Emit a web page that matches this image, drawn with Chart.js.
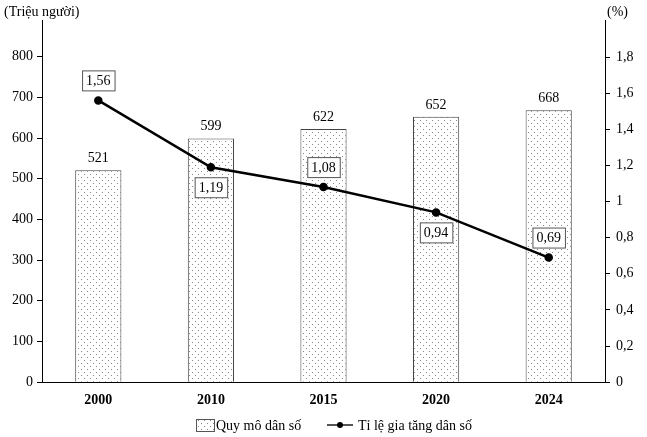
<!DOCTYPE html>
<html><head><meta charset="utf-8">
<script src="https://cdn.jsdelivr.net/npm/chart.js@4.4.0/dist/chart.umd.min.js"></script>
<style>html,body{margin:0;padding:0;background:#fff;overflow:hidden}#wrap{width:647px;height:437px}</style>
</head><body><div id="wrap"><canvas id="c"></canvas></div>
<script>
// data
const years = ['2000', '2010', '2015', '2020', '2024'];
const population = [521, 599, 622, 652, 668];
const growthRate = [1.56, 1.19, 1.08, 0.94, 0.69];
const labelBelow = [false, true, false, true, false];
const leftTicks = [0, 100, 200, 300, 400, 500, 600, 700, 800];
const rightTicks = [0, 0.2, 0.4, 0.6, 0.8, 1, 1.2, 1.4, 1.6, 1.8];

const FONT = '"Liberation Serif", "DejaVu Serif", serif';

// dotted fill like the printed chart
function dotPattern() {
    const p = document.createElement('canvas');
    p.width = 6; p.height = 6;
    const g = p.getContext('2d');
    g.fillStyle = '#fff'; g.fillRect(0, 0, 6, 6);
    g.fillStyle = '#888';
    g.fillRect(0, 0, 1, 1);
    g.fillRect(3, 3, 1, 1);
    return g.createPattern(p, 'repeat');
}
const pattern = dotPattern();

const labelsPlugin = {
    id: 'labels',
    afterDatasetsDraw(chart) {
        const ctx = chart.ctx;
        ctx.save();
        ctx.font = '14px ' + FONT;
        ctx.fillStyle = '#000';
        ctx.textAlign = 'center';
        ctx.textBaseline = 'middle';
        // bar values
        chart.getDatasetMeta(0).data.forEach((b, i) => {
            ctx.fillText(String(population[i]), b.x, b.y - 12);
        });
        // boxed line values
        chart.getDatasetMeta(1).data.forEach((p, i) => {
            const t = growthRate[i].toFixed(2).replace('.', ',');
            const w = ctx.measureText(t).width + 8, h = 20;
            const cy = labelBelow[i] ? p.y + 20 : p.y - 20;
            ctx.fillStyle = '#fff';
            ctx.fillRect(p.x - w / 2, cy - h / 2, w, h);
            ctx.strokeStyle = '#555'; ctx.lineWidth = 1;
            ctx.strokeRect(p.x - w / 2 + 0.5, cy - h / 2 + 0.5, w, h);
            ctx.fillStyle = '#000';
            ctx.fillText(t, p.x, cy + 1);
        });
        // axis titles
        ctx.textAlign = 'left';
        ctx.fillText('(Triệu người)', 4, 12);
        ctx.fillText('(%)', 607, 12);
        // legend
        const ly = 425;
        ctx.fillStyle = pattern;
        ctx.fillRect(196, ly - 6, 18, 12);
        ctx.strokeStyle = '#555';
        ctx.strokeRect(196.5, ly - 5.5, 18, 12);
        ctx.fillStyle = '#000';
        ctx.fillText('Quy mô dân số', 216, ly + 1);
        ctx.lineWidth = 2;
        ctx.beginPath(); ctx.moveTo(327, ly); ctx.lineTo(353, ly); ctx.stroke();
        ctx.beginPath(); ctx.arc(340, ly, 3, 0, Math.PI * 2); ctx.fill();
        ctx.fillText('Tỉ lệ gia tăng dân số', 358, ly + 1);
        ctx.restore();
    }
};

Chart.defaults.font.family = FONT;
Chart.defaults.font.size = 14;
Chart.defaults.color = '#000';

new Chart(document.getElementById('c'), {
    type: 'bar',
    data: {
        labels: years,
        datasets: [
            { type: 'bar', data: population, backgroundColor: pattern, borderColor: '#444', borderWidth: 1,
              yAxisID: 'y', barPercentage: 0.41, categoryPercentage: 1, order: 2 },
            { type: 'line', data: growthRate, borderColor: '#000', borderWidth: 2.5, backgroundColor: '#000',
              pointRadius: 3, pointBackgroundColor: '#000', yAxisID: 'y1', tension: 0, order: 1 }
        ]
    },
    options: {
        responsive: true, maintainAspectRatio: false, animation: false,
        layout: { padding: { top: 20, bottom: 18 } },
        plugins: { legend: { display: false }, tooltip: { enabled: false } },
        scales: {
            x: {
                grid: { display: false, drawTicks: false },
                border: { color: '#000' },
                ticks: { padding: 10, font: { weight: 'bold' } }
            },
            y: {
                position: 'left', min: 0, max: 890,
                afterFit: s => { s.width = 42; },
                afterBuildTicks: s => { s.ticks = leftTicks.map(v => ({ value: v })); },
                grid: { drawOnChartArea: false, tickLength: 5, color: '#000' },
                border: { color: '#000' },
                ticks: { padding: 4, callback: v => String(v) }
            },
            y1: {
                position: 'right', min: 0, max: 2.005,
                afterFit: s => { s.width = 42; },
                afterBuildTicks: s => { s.ticks = rightTicks.map(v => ({ value: v })); },
                grid: { drawOnChartArea: false, tickLength: 5, color: '#000' },
                border: { color: '#000' },
                ticks: { padding: 6, callback: v => String(Math.round(v * 10) / 10).replace('.', ',') }
            }
        }
    },
    plugins: [labelsPlugin]
});
</script></body></html>
